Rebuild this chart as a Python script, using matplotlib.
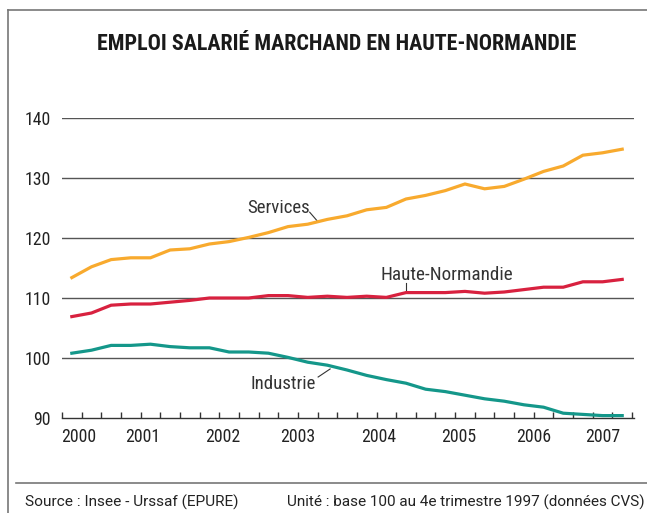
import matplotlib
matplotlib.use("Agg")
import matplotlib.pyplot as plt
from matplotlib.lines import Line2D

# quarterly index values, 2000 T1 -> 2007 T1 (base 100 = 4e trim. 1997)
quarters = list(range(29))
services = [113.4, 115.2, 116.4, 116.7, 116.7, 118.0, 118.2, 119.0, 119.4, 120.1,
            120.9, 121.9, 122.3, 123.1, 123.7, 124.7, 125.1, 126.5, 127.1, 127.9,
            129.0, 128.2, 128.6, 129.8, 131.1, 132.0, 133.8, 134.2, 134.8]
haute_normandie = [106.9, 107.5, 108.8, 109.0, 109.0, 109.3, 109.6, 110.0, 110.0, 110.0,
                   110.4, 110.4, 110.1, 110.3, 110.1, 110.3, 110.1, 110.9, 110.9, 110.9,
                   111.1, 110.8, 111.0, 111.4, 111.8, 111.8, 112.7, 112.7, 113.1]
industrie = [100.8, 101.3, 102.1, 102.1, 102.3, 101.9, 101.7, 101.7, 101.0, 101.0,
             100.8, 100.1, 99.3, 98.8, 98.0, 97.1, 96.4, 95.8, 94.8, 94.4,
             93.8, 93.2, 92.8, 92.2, 91.8, 90.8, 90.6, 90.4, 90.4]
years = ["2000", "2001", "2002", "2003", "2004", "2005", "2006", "2007"]
year_pos = [0.36, 3.6, 7.66, 11.5, 15.6, 19.7, 23.5, 27.0]
yticks = [90, 100, 110, 120, 130, 140]

FONT = ["Roboto Condensed", "Archivo Narrow", "DejaVu Sans"]
plt.rcParams["font.family"] = FONT
FOOT = ["Roboto", "DejaVu Sans"]

W, H = 647, 513
fig = plt.figure(figsize=(W / 100, H / 100), dpi=100)
ax = fig.add_axes([62 / W, 1 - 418 / H, (634 - 62) / W, 300 / H])

for v in yticks[1:]:
    ax.axhline(v, color="#555555", lw=1.0, zorder=1)

ax.plot(quarters, services, color="#F8AA2E", lw=2.3, zorder=3,
        solid_joinstyle="miter")
ax.plot(quarters, haute_normandie, color="#D8213F", lw=2.3, zorder=3,
        solid_joinstyle="miter")
ax.plot(quarters, industrie, color="#14978A", lw=2.3, zorder=3,
        solid_joinstyle="miter")

ax.set_xlim(-0.5, 28.6)
ax.set_ylim(90, 140)
for s in ["top", "right", "left"]:
    ax.spines[s].set_visible(False)
ax.spines["bottom"].set_color("#333333")
ax.spines["bottom"].set_linewidth(1.0)

ax.set_xticks([q - 0.5 for q in range(30)])
ax.set_xticklabels([])
ax.tick_params(axis="x", direction="in", length=4.5, width=1.0, color="#333333")
for pos, lab in zip(year_pos, years):
    ax.text(pos, -0.064, lab, transform=ax.get_xaxis_transform(), ha="center",
            va="center", fontsize=12.8, color="#222222")
ax.set_yticks(yticks)
ax.set_yticklabels([str(v) for v in yticks])
ax.tick_params(axis="y", length=0, pad=8, labelsize=12.8, labelcolor="#222222")

# series labels with leader lines
ax.text(10.53, 125.0, "Services", ha="center", va="center", fontsize=13.6,
        color="#333333")
ax.plot([12.1, 12.47], [124.3, 122.9], color="#333333", lw=0.8)
ax.text(19.08, 113.8, "Haute-Normandie", ha="center", va="center", fontsize=13.8,
        color="#333333")
ax.plot([17.0, 17.0], [112.5, 111.1], color="#333333", lw=0.8)
ax.text(10.76, 95.7, "Industrie", ha="center", va="center", fontsize=13.6,
        color="#333333")
ax.plot([12.53, 13.14], [96.83, 98.17], color="#333333", lw=0.8)

fig.text(336.5 / W, 1 - 44 / H, "EMPLOI SALARIÉ MARCHAND EN HAUTE-NORMANDIE",
         ha="center", va="center", fontsize=15.8, fontweight="bold", color="#1a1a1a")

fig.text(25 / W, 1 - 502.5 / H, "Source : Insee - Urssaf (EPURE)", ha="left",
         va="center", fontsize=11.1, color="#222222", family=FOOT)
fig.text(645 / W, 1 - 502.5 / H, "Unité : base 100 au 4e trimestre 1997 (données CVS)",
         ha="right", va="center", fontsize=11.0, color="#222222", family=FOOT)

# frame
fc = "#777777"
fig.add_artist(Line2D([8 / W, 1], [1 - 10 / H] * 2, color=fc, lw=1.2,
                      transform=fig.transFigure))
fig.add_artist(Line2D([8 / W] * 2, [1 - 10 / H, 0], color=fc, lw=1.2,
                      transform=fig.transFigure))
fig.add_artist(Line2D([16 / W, 1], [1 - 483 / H] * 2, color=fc, lw=1.2,
                      transform=fig.transFigure))

fig.savefig("out.png", dpi=100)
